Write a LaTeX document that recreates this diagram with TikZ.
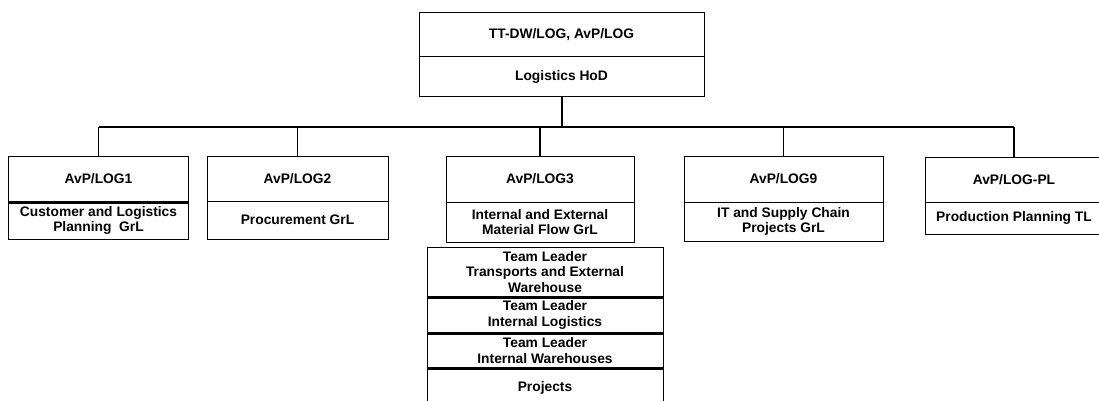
\documentclass[tikz,border=0pt]{standalone}
\usepackage{fontspec}
\setmainfont{Liberation Sans}
\begin{document}
\begin{tikzpicture}[x=1pt,y=-1pt,
  box/.style={draw=black,line width=1pt,rectangle,inner sep=1pt,align=center,
    font=\bfseries\fontsize{13.8}{15.5}\selectfont},
  conn/.style={draw=black,line width=1.5pt},
  rule/.style={draw=black,line width=2.2pt}]
\useasboundingbox[fill=white] (0,0) rectangle (1099,401);
% head of department
\node[box,minimum width=285pt,minimum height=44pt] (toph) at (561.5,35) {TT-DW/LOG, AvP/LOG};
\node[box,minimum width=285pt,minimum height=40pt] (topb) at (561.5,77) {Logistics HoD};
% group heads
\node[box,minimum width=180pt,minimum height=46pt] (l1h) at (98.5,179) {AvP/LOG1};
\node[box,minimum width=180pt,minimum height=37pt] (l1b) at (98.5,220.5) {Customer and Logistics\\Planning\ \ GrL};
\node[box,minimum width=181pt,minimum height=45pt] (l2h) at (297.5,178.5) {AvP/LOG2};
\node[box,minimum width=181pt,minimum height=38pt] (l2b) at (297.5,220) {Procurement GrL};
\node[box,minimum width=188pt,minimum height=46pt] (l3h) at (540,179) {AvP/LOG3};
\node[box,minimum width=188pt,minimum height=40pt] (l3b) at (540,222) {Internal and External\\Material Flow GrL};
\node[box,minimum width=199pt,minimum height=46pt] (l9h) at (783.5,179) {AvP/LOG9};
\node[box,minimum width=199pt,minimum height=39pt] (l9b) at (783.5,221.5) {IT and Supply Chain\\Projects GrL};
\node[box,minimum width=178pt,minimum height=45pt] (plh) at (1014,179.5) {AvP/LOG-PL};
\node[box,minimum width=178pt,minimum height=32pt] (plb) at (1014,218) {Production Planning TL};
% teams below the material flow group
\node[box,minimum width=236pt,minimum height=50pt] (t1) at (545,272) {Team Leader\\Transports and External\\Warehouse};
\node[box,minimum width=236pt,minimum height=36pt] (t2) at (545,315) {Team Leader\\Internal Logistics};
\node[box,minimum width=236pt,minimum height=35pt] (t3) at (545,350.5) {Team Leader\\Internal Warehouses};
\node[box,minimum width=236pt,minimum height=40pt] (t4) at (545,388) {Projects};
\draw[rule] (t1.south west) -- (t1.south east);
\draw[rule] (t2.south west) -- (t2.south east);
\draw[rule] (t3.south west) -- (t3.south east);
\draw[rule] (l1h.south west) -- (l1h.south east);
% reporting lines
\coordinate (busL) at (98.5,127);
\coordinate (busR) at (1014,127);
\draw[conn] (busL) -- (busR);
\draw[conn,line width=2pt] (topb.south) -- (topb.south |- busL);
\draw[conn] (l1h.north) -- (l1h.north |- busL);
\draw[conn] (l2h.north) -- (l2h.north |- busL);
\draw[conn] (l3h.north) -- (l3h.north |- busL);
\draw[conn] (l9h.north) -- (l9h.north |- busL);
\draw[conn] (plh.north) -- (plh.north |- busL);
\end{tikzpicture}
\end{document}
